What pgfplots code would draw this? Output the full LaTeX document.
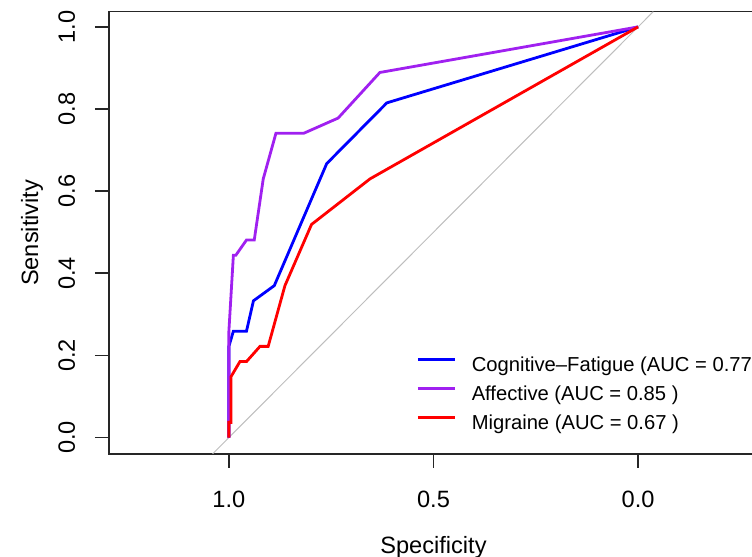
\documentclass[border=0pt]{standalone}
\usepackage{pgfplots}
\pgfplotsset{compat=1.18}
\usepackage{fontspec}
\setmainfont{Liberation Sans}
\definecolor{rblue}{RGB}{0,0,255}
\definecolor{rpurple}{HTML}{A020F0}
\definecolor{rred}{RGB}{255,0,0}
\definecolor{rgrey}{HTML}{BEBEBE}
\begin{document}
\begin{tikzpicture}
\useasboundingbox (0,0) rectangle (376pt,278.5pt);
\clip (0,0) rectangle (376pt,278.5pt);
\begin{axis}[
  at={(216.75pt,162.075pt)}, anchor=center,
  scale only axis, width=324.5pt, height=221.15pt,
  x dir=reverse,
  xmin=-0.293, xmax=1.293, ymin=-0.04, ymax=1.037,
  axis line style={line width=0.8pt, black!85},
  xtick={0,0.5,1}, xticklabels={0.0,0.5,1.0},
  ytick={0,0.2,0.4,0.6,0.8,1.0}, yticklabels={0.0,0.2,0.4,0.6,0.8,1.0},
  tick align=outside, major tick length=7pt,
  tick style={line width=0.8pt, black!85},
  xtick pos=bottom, ytick pos=left,
  /pgf/number format/assume math mode=true,
  tick label style={font=\fontsize{11.8}{14}\selectfont},
  xticklabel style={anchor=base, yshift=-20pt},
  yticklabel style={xshift=-10pt, rotate=90, anchor=base},
  xlabel={Specificity}, ylabel={Sensitivity},
  label style={font=\fontsize{11.8}{14}\selectfont, inner sep=0pt},
  xlabel style={at={(axis description cs:0.5,-0.2243)}, anchor=base},
  ylabel style={at={(axis description cs:-0.1093,0.5)}, rotate=0, anchor=base},
  legend cell align=left,
  legend style={at={(axis description cs:0.473,0.219)}, anchor=north west,
    draw=none, fill=none, inner sep=0pt,
    font=\fontsize{10.1}{12}\selectfont,
    nodes={inner sep=0pt, text height=7.2pt, text depth=2.2pt},
    row sep=5.0pt,
    /tikz/every odd column/.append style={column sep=7.8pt}},
  legend image code/.code={\draw[#1] (0pt,3.6pt) -- (18.5pt,3.6pt);},
]
\addplot[rgrey, line width=0.5pt, forget plot] coordinates {(1.04,-0.04) (-0.037,1.037)};
\addplot[rblue, line width=1.4pt] coordinates {
(1.0,0) (1.0,0.222) (0.989,0.259) (0.957,0.259) (0.940,0.333) (0.889,0.370)
(0.761,0.667) (0.614,0.815) (0,1)};
\addlegendentry{Cognitive–Fatigue (AUC = 0.77 )}
\addplot[rpurple, line width=1.4pt] coordinates {
(1.0,0) (1.0,0.259) (0.989,0.444) (0.983,0.444) (0.957,0.481) (0.938,0.481)
(0.916,0.630) (0.885,0.741) (0.817,0.741) (0.733,0.778) (0.631,0.889) (0,1)};
\addlegendentry{Affective (AUC = 0.85 )}
\addplot[rred, line width=1.4pt] coordinates {
(1.0,0) (1.0,0.037) (0.995,0.037) (0.995,0.148) (0.973,0.185) (0.957,0.185)
(0.924,0.222) (0.904,0.222) (0.863,0.370) (0.798,0.519) (0.655,0.630) (0,1)};
\addlegendentry{Migraine (AUC = 0.67 )}
\end{axis}
\end{tikzpicture}
\end{document}
